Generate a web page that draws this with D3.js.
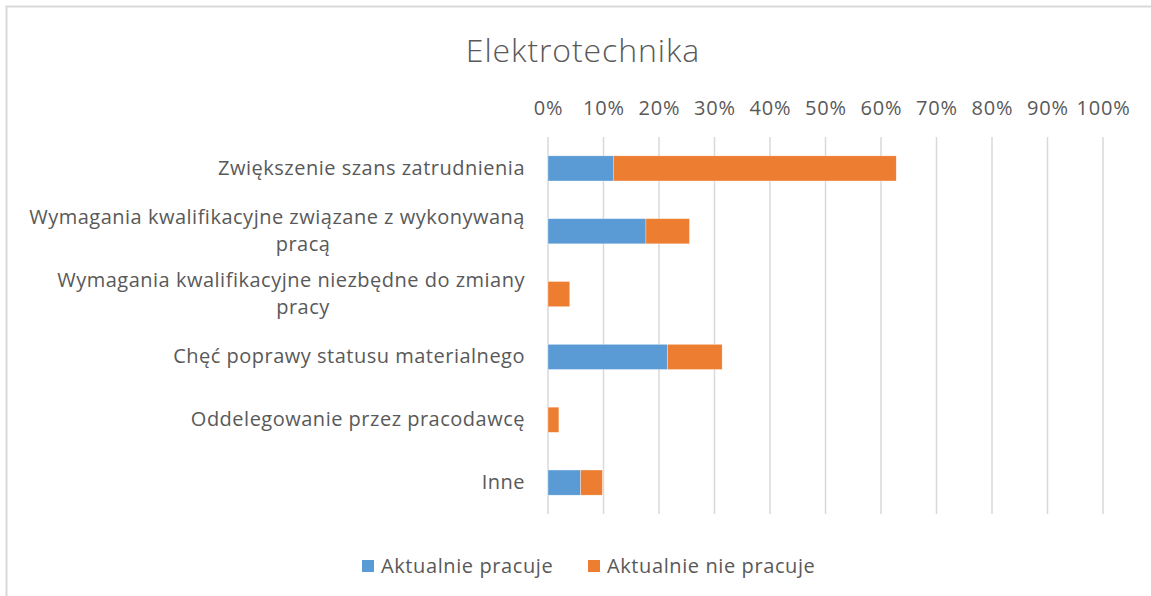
<!DOCTYPE html>
<html><head><meta charset="utf-8">
<script src="https://cdn.jsdelivr.net/npm/d3@7"></script>
<style>body{margin:0;background:#fff;} svg{display:block;font-family:'Open Sans', sans-serif;}</style>
</head><body>
<svg id="c" width="1151" height="596"></svg>
<script>
const title = "Elektrotechnika";
const categories = [
  "Zwiększenie szans zatrudnienia",
  "Wymagania kwalifikacyjne związane z wykonywaną|pracą",
  "Wymagania kwalifikacyjne niezbędne do zmiany|pracy",
  "Chęć poprawy statusu materialnego",
  "Oddelegowanie przez pracodawcę",
  "Inne"
];
const seriesNames = ["Aktualnie pracuje", "Aktualnie nie pracuje"];
const pracuje = [11.76, 17.65, 0, 21.57, 0, 5.88];
const niePracuje = [50.98, 7.84, 3.92, 9.80, 1.96, 3.92];
const tickValues = [0,10,20,30,40,50,60,70,80,90,100];
const colors = ["#5b9bd5", "#ed7d31"];
const FONT = "'Open Sans', sans-serif";

const svg = d3.select("#c");
svg.append("path").attr("d","M6.5,596 L6.5,6.5 L1151,6.5").attr("fill","none").attr("stroke","#d9d9d9").attr("stroke-width",2);

svg.append("text").attr("x",583).attr("y",62).attr("text-anchor","middle")
  .attr("font-size",32).attr("letter-spacing",0.9).attr("fill","#595959").attr("font-weight",300).text(title);

const x = d3.scaleLinear().domain([0,100]).range([548,1103]);
const y = d3.scaleBand().domain(categories).range([137,514]).paddingInner(0.6).paddingOuter(0.3);

svg.append("g").selectAll("line").data(tickValues).join("line")
  .attr("x1",d=>x(d)).attr("x2",d=>x(d)).attr("y1",137).attr("y2",514)
  .attr("stroke","#d9d9d9").attr("stroke-width",1.5);

const ax = svg.append("g").attr("transform","translate(0,115)")
  .call(d3.axisTop(x).tickValues(tickValues).tickFormat(d=>d+"%").tickSize(0).tickPadding(0));
ax.select(".domain").remove();
ax.selectAll("text").attr("font-size",20).attr("letter-spacing",0.8).attr("fill","#595959").attr("font-family",FONT);

const rows = categories.map((c,i)=>({cat:c, a:pracuje[i], b:niePracuje[i]}));
const stack = d3.stack().keys(["a","b"])(rows);
svg.append("g").selectAll("g").data(stack).join("g").attr("fill",(d,i)=>colors[i])
  .selectAll("rect").data(d=>d).join("rect")
  .attr("x",d=>x(d[0])).attr("width",d=>x(d[1])-x(d[0]))
  .attr("y",d=>y(d.data.cat)).attr("height",y.bandwidth())
  .attr("stroke","#fff").attr("stroke-width",0.5).attr("stroke-opacity",0.6);

const lg = svg.append("g");
const rightEdge = 525, boxCenter = 303;
categories.forEach(c=>{
  const lines = c.split("|");
  const cy = y(c)+y.bandwidth()/2;
  const lh = 27;
  lines.forEach((ln,j)=>{
    const t = lg.append("text").attr("font-size",20).attr("letter-spacing",0.5).attr("fill","#595959")
      .attr("y",cy + (j-(lines.length-1)/2)*lh + 6.5).text(ln);
    const w = t.node().getComputedTextLength();
    let left;
    if (lines.length === 1) left = rightEdge - w;
    else left = Math.min(boxCenter - w/2, rightEdge - w);
    t.attr("x", left);
  });
});

const legItems = [{n:seriesNames[0],c:colors[0],x:362},{n:seriesNames[1],c:colors[1],x:588}];
const leg = svg.append("g");
legItems.forEach(d=>{
  leg.append("rect").attr("x",d.x).attr("y",560).attr("width",12).attr("height",12).attr("fill",d.c);
  leg.append("text").attr("x",d.x+19).attr("y",573).attr("font-size",20).attr("letter-spacing",0.6).attr("fill","#595959").text(d.n);
});
</script>
</body></html>
